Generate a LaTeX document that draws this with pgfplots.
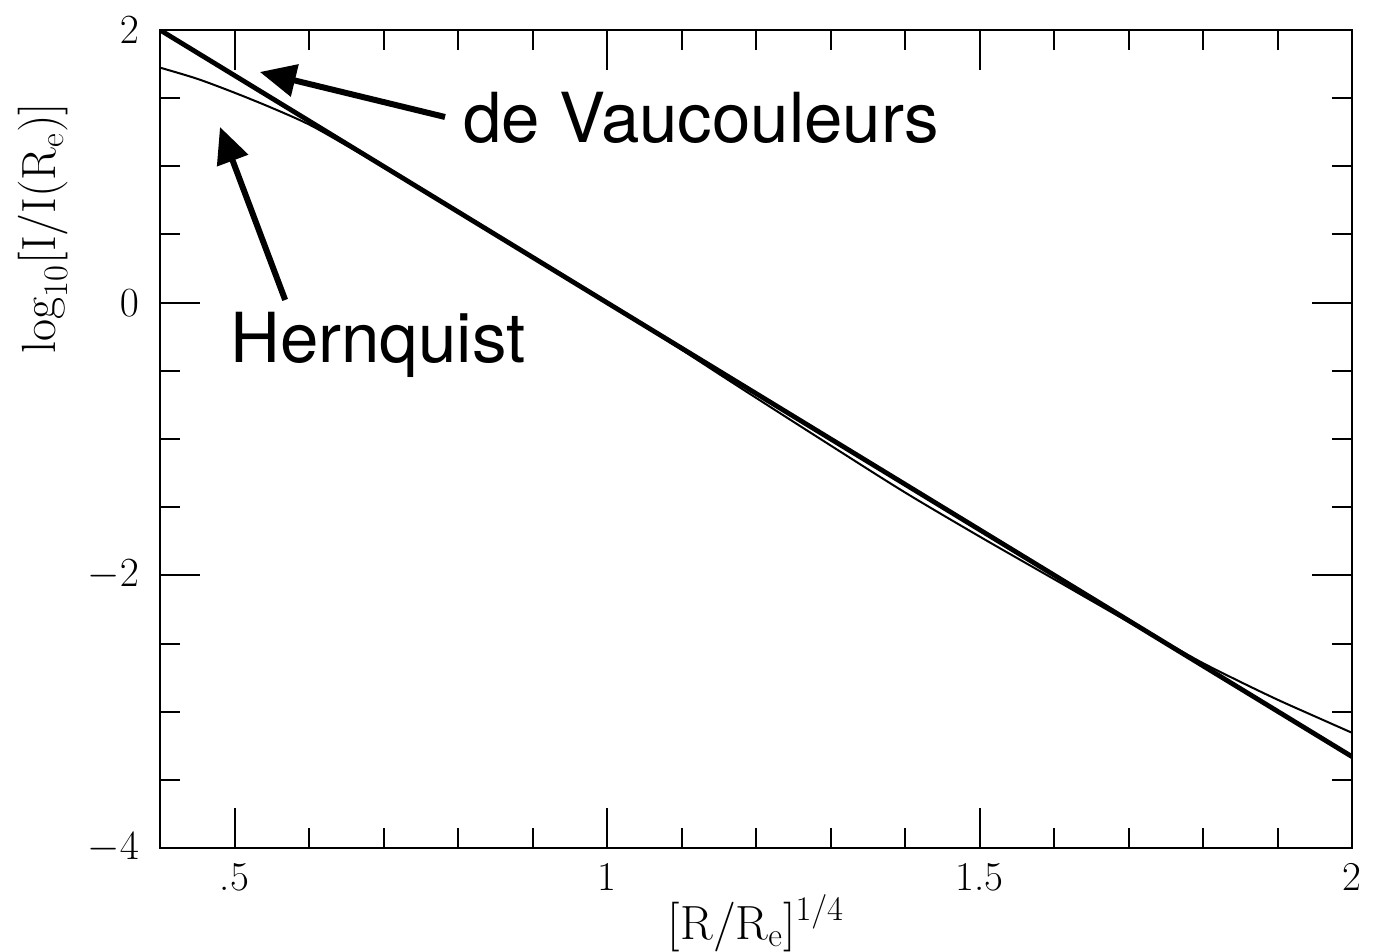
\documentclass[border=0pt]{standalone}
\usepackage{pgfplots}
\pgfplotsset{compat=1.18}
\usepackage{fontspec}
\newfontfamily\annotfont{TeX Gyre Heros}
\usetikzlibrary{arrows.meta}

% de Vaucouleurs r^{1/4} law and the projected Hernquist profile
\pgfplotstableread{
x     y
0.40  2.000
1.00  0.000
2.00  -3.330
}\devauc

\pgfplotstableread{
x     y
0.40  1.724
0.45  1.642
0.50  1.540
0.55  1.429
0.60  1.307
0.65  1.154
0.70  0.996
0.80  0.671
0.90  0.338
1.00  0.000
1.10  -0.345
1.15  -0.522
1.20  -0.698
1.30  -1.047
1.40  -1.392
1.50  -1.715
1.60  -2.028
1.65  -2.185
1.70  -2.341
1.75  -2.493
1.80  -2.644
1.85  -2.781
1.90  -2.912
1.95  -3.034
2.00  -3.155
}\hernquist

\begin{document}
\begin{tikzpicture}
\begin{axis}[
  name=ax,
  scale only axis,
  width=596pt, height=409pt,
  xmin=0.4, xmax=2, ymin=-4, ymax=2,
  axis line style={line width=1.3pt},
  tick style={line width=1pt, black},
  major tick length=20pt,
  minor tick length=10pt,
  tick align=inside,
  xtick={0.5,1,1.5,2},
  xticklabels={.5,1,1.5,2},
  minor xtick={0.6,0.7,0.8,0.9,1.1,1.2,1.3,1.4,1.6,1.7,1.8,1.9},
  ytick={-4,-2,0,2},
  yticklabels={$-4$,$-2$,$0$,$2$},
  minor ytick={-3.5,-3,-2.5,-1.5,-1,-0.5,0.5,1,1.5},
  ticklabel style={font=\fontsize{20.5}{24}\selectfont},
  xticklabel style={yshift=-4pt},
  yticklabel style={xshift=-7pt},
  xlabel={$[\mathrm{R/R_e}]^{1/4}$},
  ylabel={$\log_{10}[\mathrm{I/I(R_e)}]$},
  label style={font=\fontsize{24}{28}\selectfont},
  xlabel style={at={(axis description cs:0.5,-0.092)}, anchor=center},
  ylabel style={at={(axis description cs:-0.098,0.758)}, anchor=center, rotate=0},
  clip=true,
]
\addplot[black, line width=2.4pt] table[x=x, y=y] {\devauc};
\addplot[black, line width=1pt, smooth] table[x=x, y=y] {\hernquist};

% annotations
\draw[-{Triangle[length=18pt,width=16pt]}, line width=3pt]
  (axis cs:0.7826,1.362) -- (axis cs:0.534,1.692);
\draw[-{Triangle[length=18pt,width=16pt]}, line width=3pt]
  (axis cs:0.568,0.02) -- (axis cs:0.4805,1.289);
\node[anchor=base west, inner sep=0pt, font=\annotfont\fontsize{34.5}{40}\selectfont]
  at (axis cs:0.8067,1.178) {de Vaucouleurs};
\node[anchor=base west, inner sep=0pt, font=\annotfont\fontsize{34.5}{40}\selectfont]
  at (axis cs:0.494,-0.442) {Hernquist};
\end{axis}
\pgfresetboundingbox
\path[use as bounding box]
  ([shift={(-80pt,-51.5pt)}]ax.south west) rectangle ([shift={(13pt,15pt)}]ax.north east);
\end{tikzpicture}
\end{document}
